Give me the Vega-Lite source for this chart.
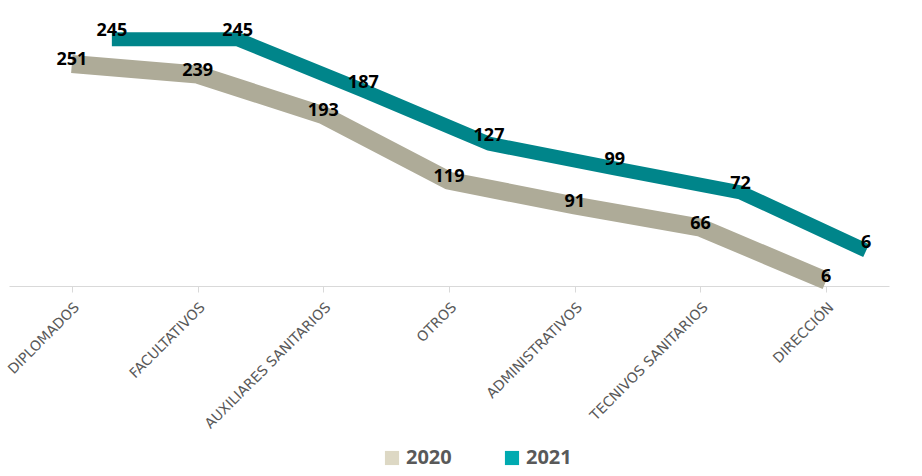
{
  "$schema": "https://vega.github.io/schema/vega-lite/v6.json",
  "width": 880,
  "height": 230,
  "padding": {"left": 5, "right": 15, "top": 22, "bottom": 5},
  "config": {"view": {"stroke": null}, "font": "Open Sans"},
  "data": {"values": [
    {"categoria": "DIPLOMADOS", "serie": "2020", "valor": 251},
    {"categoria": "FACULTATIVOS", "serie": "2020", "valor": 239},
    {"categoria": "AUXILIARES SANITARIOS", "serie": "2020", "valor": 193},
    {"categoria": "OTROS", "serie": "2020", "valor": 119},
    {"categoria": "ADMINISTRATIVOS", "serie": "2020", "valor": 91},
    {"categoria": "TECNIVOS SANITARIOS", "serie": "2020", "valor": 66},
    {"categoria": "DIRECCIÓN", "serie": "2020", "valor": 6},
    {"categoria": "DIPLOMADOS", "serie": "2021", "valor": 245},
    {"categoria": "FACULTATIVOS", "serie": "2021", "valor": 245},
    {"categoria": "AUXILIARES SANITARIOS", "serie": "2021", "valor": 187},
    {"categoria": "OTROS", "serie": "2021", "valor": 127},
    {"categoria": "ADMINISTRATIVOS", "serie": "2021", "valor": 99},
    {"categoria": "TECNIVOS SANITARIOS", "serie": "2021", "valor": 72},
    {"categoria": "DIRECCIÓN", "serie": "2021", "valor": 6}
  ]},
  "encoding": {
    "x": {"field": "categoria", "type": "nominal", "sort": null,
      "scale": {"type": "point", "padding": 0.5},
      "axis": {"title": null, "labelAngle": -45, "labelFontSize": 14, "labelColor": "#595959",
        "labelFont": "DejaVu Sans",
        "domainColor": "#d9d9d9", "tickColor": "#d9d9d9", "tickSize": 6, "labelPadding": 8}},
    "y": {"field": "valor", "type": "quantitative", "scale": {"domain": [0, 260]}, "axis": null}
  },
  "layer": [
    {
      "transform": [{"filter": "datum.serie == '2021'"}],
      "mark": {"type": "line", "strokeWidth": 14, "xOffset": 40, "yOffset": -30, "strokeJoin": "round", "color": "#00858a"}
    },
    {
      "transform": [{"filter": "datum.serie == '2020'"}],
      "mark": {"type": "line", "strokeWidth": 18, "strokeJoin": "round", "color": "#aeab98"}
    },
    {
      "transform": [{"filter": "datum.serie == '2021'"}],
      "mark": {"type": "text", "fontSize": 18, "fontWeight": "bold", "color": "#000000", "dx": 40, "dy": -38},
      "encoding": {"text": {"field": "valor", "type": "quantitative"}}
    },
    {
      "transform": [{"filter": "datum.serie == '2020'"}],
      "mark": {"type": "text", "fontSize": 18, "fontWeight": "bold", "color": "#000000", "dy": -4},
      "encoding": {"text": {"field": "valor", "type": "quantitative"}}
    },
    {
      "mark": {"type": "square", "opacity": 0, "filled": true},
      "encoding": {"fill": {"field": "serie", "type": "nominal",
        "scale": {"domain": ["2020", "2021"], "range": ["#ddd8c4", "#00aab0"]},
        "legend": {"title": null, "orient": "none", "legendX": 373, "legendY": 392, "direction": "horizontal", "symbolType": "square",
          "symbolSize": 200, "symbolOpacity": 1, "symbolStrokeWidth": 0, "labelFontSize": 20, "labelColor": "#595959",
          "labelFontWeight": "bold", "columnPadding": 50}}}
    }
  ]
}
